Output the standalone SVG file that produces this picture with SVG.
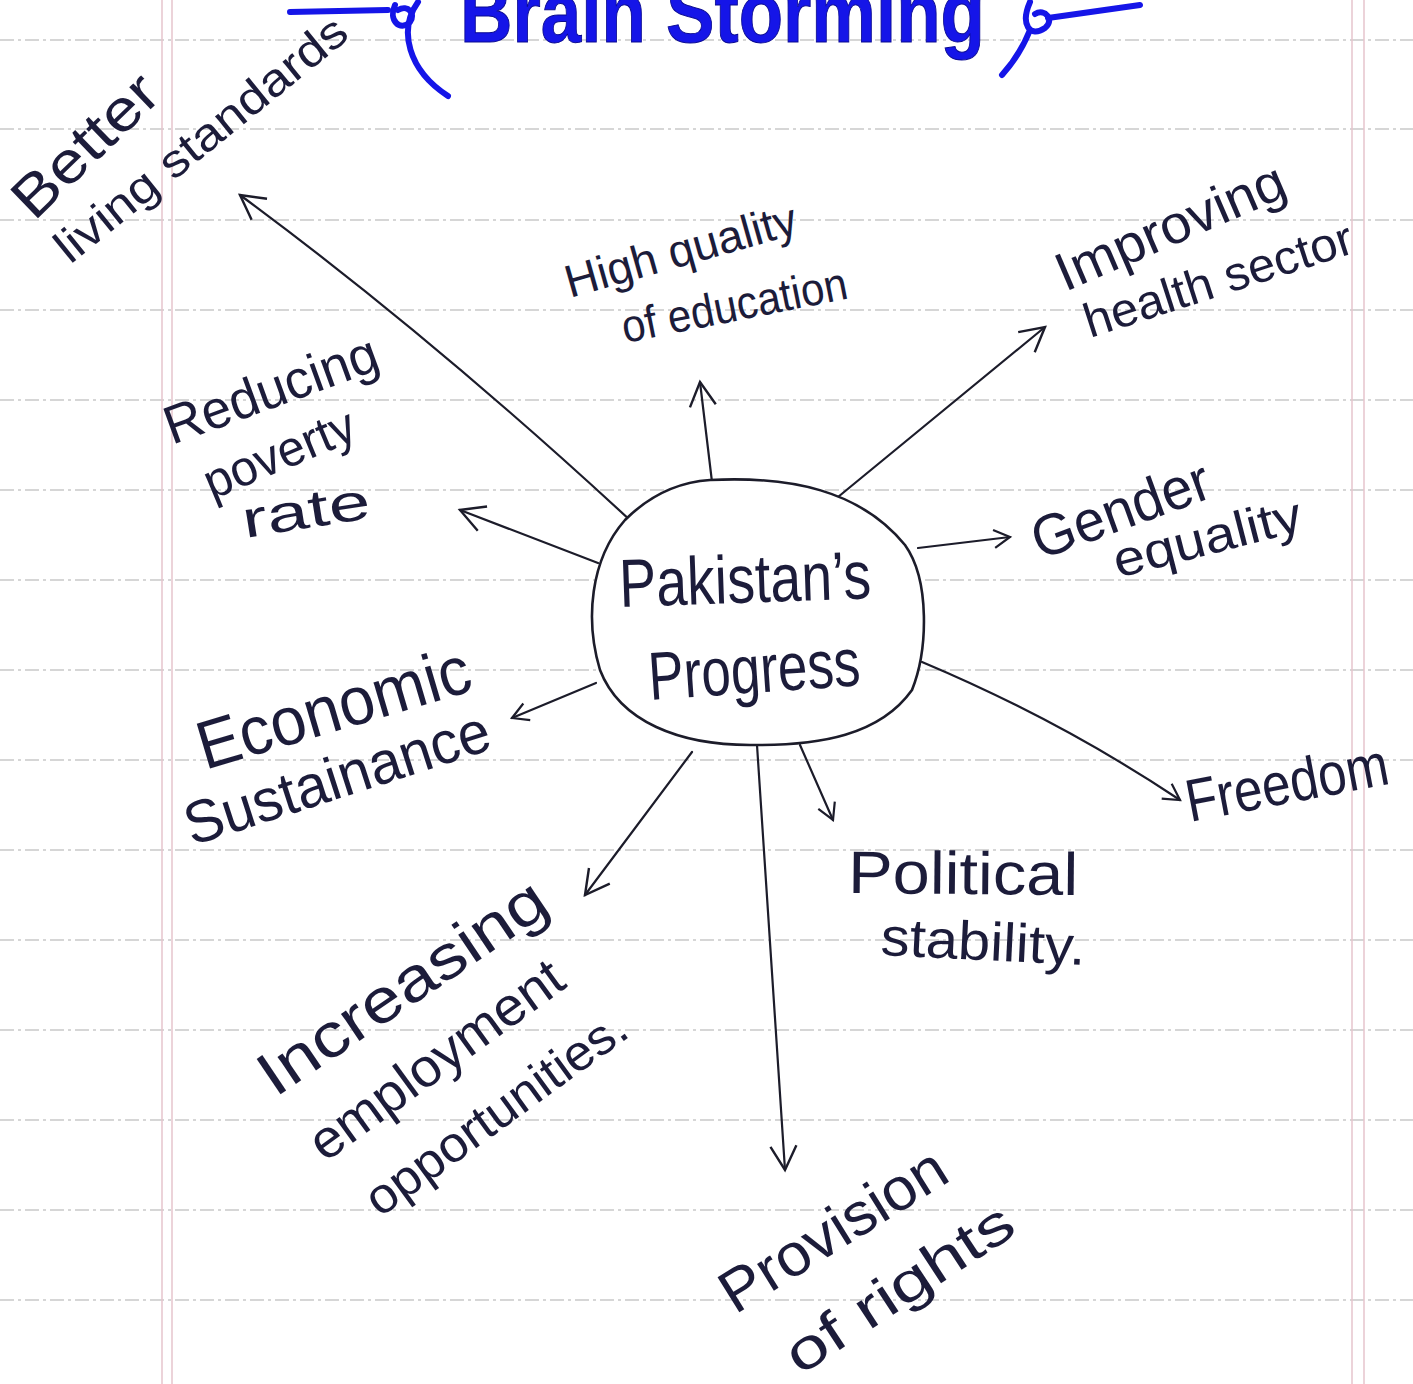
<svg xmlns="http://www.w3.org/2000/svg" width="1413" height="1384" viewBox="0 0 1413 1384">
<style>
.rule{stroke:#c9c9c9;stroke-width:1.6;stroke-dasharray:14 4 3 4}
.margin{stroke:#e6c4cc;stroke-width:1.5}
.lbl{font-family:"Liberation Sans","DejaVu Sans",sans-serif;fill:#1c1c3a}
.title{font-family:"Liberation Sans",sans-serif;font-weight:bold;fill:#1515e8;stroke:#0a0a90;stroke-width:1}
.deco{fill:none;stroke:#1515e8;stroke-width:6;stroke-linecap:round}
.conn{fill:none;stroke:#1c1c2a;stroke-width:2.2;stroke-linecap:round}
.node{fill:#ffffff;stroke:#1c1c2a;stroke-width:2.6}
</style>
<defs>
<marker id="ah" viewBox="-28 -16 32 32" markerWidth="32" markerHeight="32" refX="0" refY="0" orient="auto" markerUnits="userSpaceOnUse">
<path d="M-24,-13 L0,0 L-24,13" fill="none" stroke="#1c1c2a" stroke-width="2.4" stroke-linejoin="miter"/>
</marker>
<marker id="ahs" viewBox="-22 -12 26 24" markerWidth="26" markerHeight="24" refX="0" refY="0" orient="auto" markerUnits="userSpaceOnUse">
<path d="M-16,-9 L0,0 L-16,9" fill="none" stroke="#1c1c2a" stroke-width="2.2"/>
</marker>
</defs>
<rect x="0" y="0" width="1413" height="1384" fill="#ffffff"/>
<g id="paper">
<line class="rule" x1="0" y1="40" x2="1413" y2="40"/>
<line class="rule" x1="0" y1="129" x2="1413" y2="129"/>
<line class="rule" x1="0" y1="220" x2="1413" y2="220"/>
<line class="rule" x1="0" y1="310" x2="1413" y2="310"/>
<line class="rule" x1="0" y1="400" x2="1413" y2="400"/>
<line class="rule" x1="0" y1="490" x2="1413" y2="490"/>
<line class="rule" x1="0" y1="580" x2="1413" y2="580"/>
<line class="rule" x1="0" y1="670" x2="1413" y2="670"/>
<line class="rule" x1="0" y1="760" x2="1413" y2="760"/>
<line class="rule" x1="0" y1="850" x2="1413" y2="850"/>
<line class="rule" x1="0" y1="940" x2="1413" y2="940"/>
<line class="rule" x1="0" y1="1030" x2="1413" y2="1030"/>
<line class="rule" x1="0" y1="1120" x2="1413" y2="1120"/>
<line class="rule" x1="0" y1="1210" x2="1413" y2="1210"/>
<line class="rule" x1="0" y1="1300" x2="1413" y2="1300"/>
<line class="margin" x1="162" y1="0" x2="162" y2="1384"/>
<line class="margin" x1="172" y1="0" x2="172" y2="1384"/>
<line class="margin" x1="1352" y1="0" x2="1352" y2="1384"/>
<line class="margin" x1="1364" y1="0" x2="1364" y2="1384"/>
</g>
<g id="title">
<path class="deco" d="M290,12 L388,10"/>
<path class="deco" d="M395,5 C388,20 400,32 410,22 C416,14 408,4 398,10"/>
<path class="deco" d="M418,2 C398,30 408,70 448,96"/>
<text class="title" x="460" y="42" font-size="86" textLength="525" lengthAdjust="spacingAndGlyphs">Brain Storming</text>
<path class="deco" d="M1030,2 C1020,25 1030,38 1045,28 C1055,20 1045,8 1035,14"/>
<path class="deco" d="M1048,18 L1140,5"/>
<path class="deco" d="M1030,30 C1022,50 1012,64 1002,75"/>
</g>
<g id="connectors">
<path class="conn" marker-end="url(#ah)" d="M632,522 Q430,335 240,195"/>
<path class="conn" marker-end="url(#ah)" d="M712,482 L700,382"/>
<path class="conn" marker-end="url(#ah)" d="M838,497 L1045,327"/>
<path class="conn" marker-end="url(#ahs)" d="M918,548 L1010,537"/>
<path class="conn" marker-end="url(#ahs)" d="M922,662 Q1060,720 1180,800"/>
<path class="conn" marker-end="url(#ahs)" d="M800,745 L833,820"/>
<path class="conn" marker-end="url(#ah)" d="M757,745 L785,1170"/>
<path class="conn" marker-end="url(#ah)" d="M692,752 L585,895"/>
<path class="conn" marker-end="url(#ahs)" d="M596,683 L512,718"/>
<path class="conn" marker-end="url(#ah)" d="M598,563 L460,510"/>
</g>
<g id="center">
<path class="node" d="M710,480 C790,476 860,490 905,545 C930,580 928,650 912,690 C880,735 820,746 750,745 C680,745 620,722 600,670 C585,620 590,560 625,520 C650,495 680,482 710,480 Z"/>
<text class="lbl" transform="translate(620,607) rotate(-2)" font-size="68" textLength="252" lengthAdjust="spacingAndGlyphs">Pakistan’s</text>
<text class="lbl" transform="translate(650,700) rotate(-4)" font-size="68" textLength="212" lengthAdjust="spacingAndGlyphs">Progress</text>
</g>
<g id="n-living">
<text class="lbl" transform="translate(34,222) rotate(-44)" font-size="58" textLength="180" lengthAdjust="spacingAndGlyphs">Better</text>
<text class="lbl" transform="translate(70,265) rotate(-39)" font-size="46" textLength="362" lengthAdjust="spacingAndGlyphs">living standards</text>
</g>
<g id="n-education">
<text class="lbl" transform="translate(570,298) rotate(-15.8)" font-size="46" textLength="239" lengthAdjust="spacingAndGlyphs">High quality</text>
<text class="lbl" transform="translate(625,343) rotate(-11.3)" font-size="46" textLength="229" lengthAdjust="spacingAndGlyphs">of education</text>
</g>
<g id="n-health">
<text class="lbl" transform="translate(1065,292) rotate(-23.3)" font-size="54" textLength="245" lengthAdjust="spacingAndGlyphs">Improving</text>
<text class="lbl" transform="translate(1090,338) rotate(-17.9)" font-size="48" textLength="280" lengthAdjust="spacingAndGlyphs">health sector</text>
</g>
<g id="n-poverty">
<text class="lbl" transform="translate(172,445) rotate(-20)" font-size="54" textLength="224" lengthAdjust="spacingAndGlyphs">Reducing</text>
<text class="lbl" transform="translate(212,500) rotate(-22.7)" font-size="50" textLength="160" lengthAdjust="spacingAndGlyphs">poverty</text>
<text class="lbl" transform="translate(245,538) rotate(-9)" font-size="52" textLength="129" lengthAdjust="spacingAndGlyphs">rate</text>
</g>
<g id="n-gender">
<text class="lbl" transform="translate(1040,560) rotate(-20)" font-size="58" textLength="186" lengthAdjust="spacingAndGlyphs">Gender</text>
<text class="lbl" transform="translate(1118,578) rotate(-14.4)" font-size="50" textLength="193" lengthAdjust="spacingAndGlyphs">equality</text>
</g>
<g id="n-economic">
<text class="lbl" transform="translate(205,770) rotate(-16.5)" font-size="68" textLength="282" lengthAdjust="spacingAndGlyphs">Economic</text>
<text class="lbl" transform="translate(192,846) rotate(-17.9)" font-size="60" textLength="318" lengthAdjust="spacingAndGlyphs">Sustainance</text>
</g>
<g id="n-freedom">
<text class="lbl" transform="translate(1190,822) rotate(-10.8)" font-size="60" textLength="205" lengthAdjust="spacingAndGlyphs">Freedom</text>
</g>
<g id="n-political">
<text class="lbl" transform="translate(848,893) rotate(0.5)" font-size="60" textLength="230" lengthAdjust="spacingAndGlyphs">Political</text>
<text class="lbl" transform="translate(880,955) rotate(2.8)" font-size="54" textLength="205" lengthAdjust="spacingAndGlyphs">stability.</text>
</g>
<g id="n-employment">
<text class="lbl" transform="translate(275,1098) rotate(-34)" font-size="62" textLength="335" lengthAdjust="spacingAndGlyphs">Increasing</text>
<text class="lbl" transform="translate(325,1163) rotate(-36)" font-size="54" textLength="301" lengthAdjust="spacingAndGlyphs">employment</text>
<text class="lbl" transform="translate(380,1218) rotate(-36)" font-size="50" textLength="311" lengthAdjust="spacingAndGlyphs">opportunities.</text>
</g>
<g id="n-rights">
<text class="lbl" transform="translate(735,1315) rotate(-31.9)" font-size="60" textLength="256" lengthAdjust="spacingAndGlyphs">Provision</text>
<text class="lbl" transform="translate(800,1376) rotate(-33.3)" font-size="56" textLength="262" lengthAdjust="spacingAndGlyphs">of rights</text>
</g>
</svg>
